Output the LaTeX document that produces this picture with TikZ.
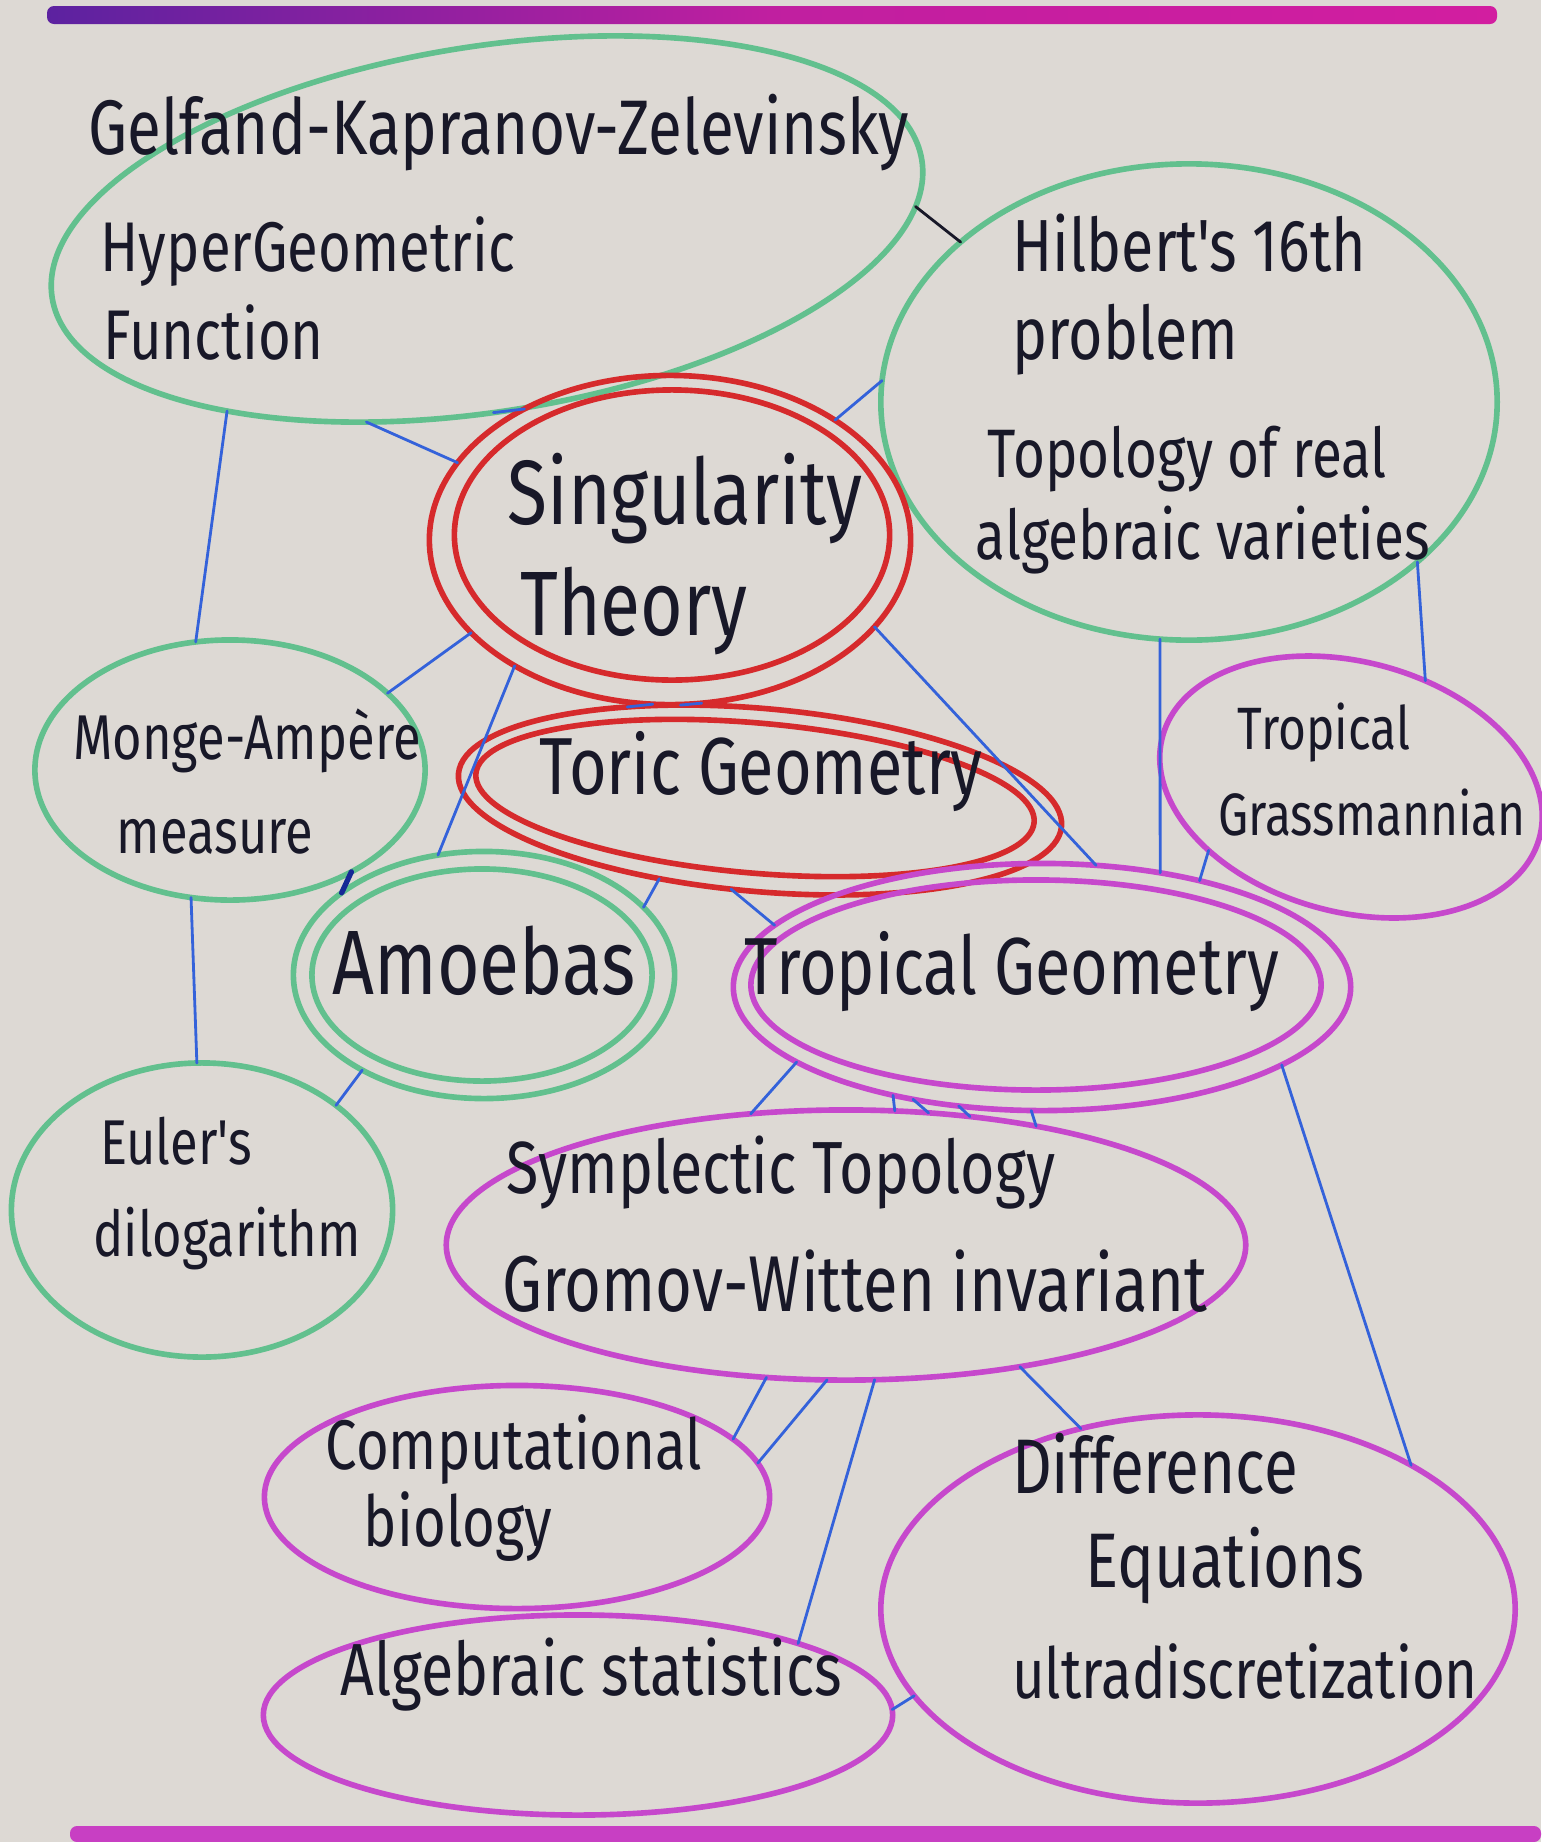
\documentclass[tikz,border=0pt]{standalone}
\usepackage{fontspec}
\newfontfamily\handfont{Fira Sans}[FakeStretch=0.8]
\newcommand\handsize[1]{\handfont\fontsize{#1}{#1}\selectfont}
\usetikzlibrary{shapes.geometric}

\definecolor{paper}{RGB}{221,217,212}
\definecolor{pengreen}{RGB}{98,192,142}
\definecolor{penred}{RGB}{214,42,44}
\definecolor{penmag}{RGB}{198,72,204}
\definecolor{penblue}{RGB}{52,98,218}
\definecolor{pendark}{RGB}{22,40,150}
\definecolor{ink}{RGB}{24,24,40}
\definecolor{barpurple}{RGB}{92,34,160}
\definecolor{barmag}{RGB}{210,30,160}

\begin{document}
\begin{tikzpicture}
  [
  x=0.01cm, y=-0.01cm,
  line cap=round,
  topic/.style={ellipse, inner sep=0pt, outer sep=0pt, line width=1.6pt},
  gtopic/.style={topic, draw=pengreen},
  rtopic/.style={topic, draw=penred},
  mtopic/.style={topic, draw=penmag},
  link/.style={draw=penblue, line width=0.8pt},
  words/.style={text=ink, inner sep=0pt},
  ]

% paper
\useasboundingbox (0,0) rectangle (1541,1842);
\fill[paper] (0,0) rectangle (1541,1842);
\shade[left color=barpurple, right color=barmag, middle color=barmag!85!barpurple, rounded corners=0.07cm] (47,6) rectangle (1497,24);
\fill[penmag!80!barmag, rounded corners=0.07cm] (70,1826) rectangle (1541,1842);

% topics
\node[gtopic, minimum width=8.8cm, minimum height=3.65cm, rotate=9] (gkz) at (487,229) {};
\node[gtopic, minimum width=6.16cm, minimum height=4.76cm] (hilb) at (1189,402) {};
\node[rtopic, minimum width=4.81cm, minimum height=3.29cm] (sing) at (670,540) {};
\node[rtopic, minimum width=4.35cm, minimum height=2.9cm] (singin) at (672,535) {};
\node[gtopic, minimum width=3.9cm, minimum height=2.6cm] (monge) at (230,770) {};
\node[rtopic, minimum width=6.05cm, minimum height=1.83cm, rotate=-5] (toric) at (760,800) {};
\node[rtopic, minimum width=5.6cm, minimum height=1.5cm, rotate=-5] (toricin) at (755,798) {};
\node[mtopic, minimum width=3.9cm, minimum height=2.5cm, rotate=-15] (tgrass) at (1351,787) {};
\node[gtopic, minimum width=3.81cm, minimum height=2.47cm] (amoeba) at (484,975) {};
\node[gtopic, minimum width=3.4cm, minimum height=2.12cm] (amoebain) at (482,975) {};
\node[mtopic, minimum width=6.17cm, minimum height=2.47cm] (tgeom) at (1042,987) {};
\node[mtopic, minimum width=5.7cm, minimum height=2.1cm] (tgeomin) at (1036,985) {};
\node[gtopic, minimum width=3.81cm, minimum height=2.94cm] (euler) at (202,1210) {};
\node[mtopic, minimum width=7.99cm, minimum height=2.7cm] (sympl) at (846,1245) {};
\node[mtopic, minimum width=5.05cm, minimum height=2.23cm] (comp) at (517,1497) {};
\node[mtopic, minimum width=6.34cm, minimum height=3.88cm] (diff) at (1198,1609) {};
\node[mtopic, minimum width=6.29cm, minimum height=2.0cm] (alg) at (578,1715) {};

% texts
\node[words, font=\handsize{22}, anchor=mid] (gkzA) at (499,147) {Gelfand-Kapranov-Zelevinsky};
\node[words, font=\handsize{20}, anchor=mid west] (gkzB) at (100,264) {HyperGeometric};
\node[words, font=\handsize{20}, anchor=mid west] (gkzC) at (103,352) {Function};
\node[words, font=\handsize{21}, anchor=mid west] (hilbA) at (1012,264) {Hilbert's 16th};
\node[words, font=\handsize{21}, anchor=mid west] (hilbB) at (1012,352) {problem};
\node[words, font=\handsize{19.5}, anchor=mid west] (hilbC) at (987,470) {Topology of real};
\node[words, font=\handsize{19.5}, anchor=mid west] (hilbD) at (975,552) {algebraic varieties};
\node[words, font=\handsize{26}, anchor=mid] (singA) at (685,517) {Singularity};
\node[words, font=\handsize{26}, anchor=mid] (singB) at (634,628) {Theory};
\node[words, font=\handsize{18}, anchor=mid] (mongeA) at (247,752) {Monge-Ampère};
\node[words, font=\handsize{18}, anchor=mid] (mongeB) at (215,846) {measure};
\node[words, font=\handsize{23}, anchor=mid] (toricA) at (761,787) {Toric Geometry};
\node[words, font=\handsize{17}, anchor=mid] (tgrassA) at (1324,742) {Tropical};
\node[words, font=\handsize{17}, anchor=mid] (tgrassB) at (1372,828) {Grassmannian};
\node[words, font=\handsize{26}, anchor=mid] (amoebaA) at (484,987) {Amoebas};
\node[words, font=\handsize{23}, anchor=mid] (tgeomA) at (1012,987) {Tropical Geometry};
\node[words, font=\handsize{18}, anchor=mid] (eulerA) at (176,1157) {Euler's};
\node[words, font=\handsize{18}, anchor=mid] (eulerB) at (227,1249) {dilogarithm};
\node[words, font=\handsize{21}, anchor=mid] (symplA) at (781,1186) {Symplectic Topology};
\node[words, font=\handsize{22.5}, anchor=mid] (symplB) at (855,1304) {Gromov-Witten invariant};
\node[words, font=\handsize{20}, anchor=mid] (compA) at (514,1462) {Computational};
\node[words, font=\handsize{20}, anchor=mid] (compB) at (458,1539) {biology};
\node[words, font=\handsize{21}, anchor=mid] (algA) at (591,1688) {Algebraic statistics};
\node[words, font=\handsize{22}, anchor=mid] (diffA) at (1155,1486) {Difference};
\node[words, font=\handsize{22}, anchor=mid] (diffB) at (1225,1580) {Equations};
\node[words, font=\handsize{20}, anchor=mid] (diffC) at (1245,1691) {ultradiscretization};

% links
\draw[link] (gkz.-131) -- (sing.160);
\draw[link] (gkz.-97) -- (sing.138);
\draw[link] (gkz.-154) -- (monge.105);
\draw[link] (hilb.176) -- (sing.36);
\draw[draw=ink, line width=0.8pt] (hilb.145) -- (gkz.-6.5);
\draw[link] (sing.-155) -- (monge.26);
\draw[link] (sing.-141) -- (amoeba.111);
\draw[link] (sing.-96) -- (toric.150);
\draw[link] (sing.-79) -- (toric.135);
\draw[link] (sing.-23) -- (tgeom.66);
\draw[link] (hilb.-97) -- (tgeom.44);
\draw[link] (hilb.-35) -- (tgrass.70);
\draw[link] (tgrass.-141) -- (tgeom.34);
\draw[link] (toric.-137) -- (amoeba.23);
\draw[link] (toric.-103) -- (tgeom.167);
\draw[draw=pendark, line width=1.5pt] (monge.-40) -- (amoeba.150);
\draw[link] (monge.-107) -- (euler.92);
\draw[link] (amoeba.-142) -- (euler.38);
\draw[link] (tgeom.-163) -- (sympl.126);
\draw[link] (tgeom.-144) -- (sympl.70);
\draw[link] (tgeom.-139) -- (sympl.58);
\draw[link] (tgeom.-125) -- (sympl.46);
\draw[link] (tgeom.-95) -- (sympl.32);
\draw[link] (tgeom.-18) -- (diff.34);
\draw[link] (sympl.-121) -- (comp.15);
\draw[link] (sympl.-98) -- (comp.8);
\draw[link] (sympl.-78) -- (alg.18);
\draw[link] (sympl.-35) -- (diff.123);
\draw[link] (alg.1) -- (diff.-163);
\end{tikzpicture}
\end{document}
